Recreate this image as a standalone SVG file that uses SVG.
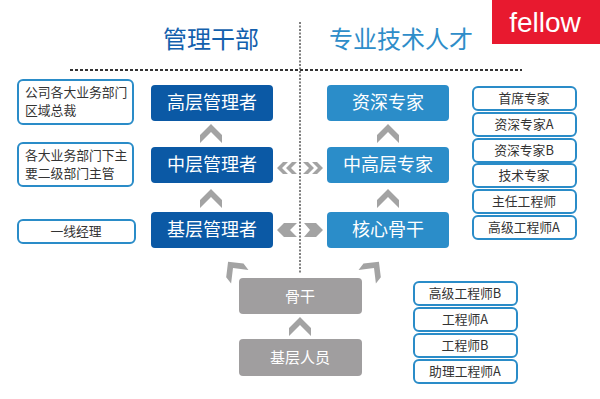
<svg xmlns="http://www.w3.org/2000/svg" width="600" height="399" viewBox="0 0 600 399">
<defs>
<style>
text{font-family:"Noto Sans CJK SC","Liberation Sans",sans-serif;text-anchor:middle}
.dk{fill:#0b59a5}
.lt{fill:#2b8dc9}
.gr{fill:#a09e9f}
.bt{fill:#fff;font-size:18px}
.ob{fill:#fff;stroke:#2a8cc8;stroke-width:2}
.ot{fill:#333;font-size:12.8px}
.chev{fill:#a3a3a3}
</style>
<polygon id="up" points="-11,3 0,-8 11,3 11,11 0,0 -11,11"/>
</defs>
<rect x="492" y="0" width="108" height="44" fill="#e8192f"/>
<text x="545" y="32" style="font-family:'Liberation Sans',sans-serif;font-size:28px;fill:#fff">fellow</text>
<text x="211" y="48" style="font-size:24px;fill:#1360ad">管理干部</text>
<text x="401" y="48" style="font-size:24px;fill:#2e8dc9">专业技术人才</text>
<g id="connectors">
<line x1="70" y1="70" x2="522" y2="70" stroke="#333" stroke-width="2" stroke-dasharray="3 2"/>
<line x1="300" y1="22" x2="300" y2="273" stroke="#555" stroke-width="1.5" stroke-dasharray="2 1.5"/>
<use href="#up" class="chev" x="211" y="132"/>
<use href="#up" class="chev" x="211" y="197"/>
<use href="#up" class="chev" x="388" y="132"/>
<use href="#up" class="chev" x="388" y="197"/>
<use href="#up" class="chev" x="300" y="325"/>
<use href="#up" class="chev" transform="translate(233,268) rotate(-38)"/>
<use href="#up" class="chev" transform="translate(374,268) rotate(38)"/>
<g class="chev">
<polygon points="277,168 283,162 288,162 282,168 288,174 283,174"/>
<polygon points="286,168 292,162 297,162 291,168 297,174 292,174"/>
<polygon points="323,168 317,162 312,162 318,168 312,174 317,174"/>
<polygon points="314,168 308,162 303,162 309,168 303,174 308,174"/>
<polygon points="277,230 284,223 297,223 290,230 297,237 284,237"/>
<polygon points="323,230 316,223 304,223 310,230 304,237 316,237"/>
</g>
</g>
<g id="n-gaoceng"><rect class="dk" x="151" y="85" width="122" height="36" rx="4"/><text class="bt" x="212" y="109">高层管理者</text></g>
<g id="n-zhongceng"><rect class="dk" x="151" y="147" width="122" height="36" rx="4"/><text class="bt" x="212" y="171">中层管理者</text></g>
<g id="n-jiceng"><rect class="dk" x="151" y="212" width="122" height="36" rx="4"/><text class="bt" x="212" y="236">基层管理者</text></g>
<g id="n-zishen"><rect class="lt" x="327" y="85" width="122" height="36" rx="4"/><text class="bt" x="388" y="109">资深专家</text></g>
<g id="n-zhonggao"><rect class="lt" x="327" y="147" width="122" height="36" rx="4"/><text class="bt" x="388" y="171">中高层专家</text></g>
<g id="n-hexin"><rect class="lt" x="327" y="212" width="122" height="36" rx="4"/><text class="bt" x="388" y="236">核心骨干</text></g>
<g id="n-gugan"><rect class="gr" x="239" y="278" width="123" height="36" rx="4"/><text class="bt" x="300" y="302" style="font-size:15px">骨干</text></g>
<g id="n-jicengry"><rect class="gr" x="239" y="339" width="123" height="37" rx="4"/><text class="bt" x="300" y="363" style="font-size:15px">基层人员</text></g>
<g id="l1"><rect class="ob" x="18" y="80" width="115" height="44" rx="5"/><text class="ot" x="25" y="97" style="text-anchor:start">公司各大业务部门</text><text class="ot" x="25" y="115" style="text-anchor:start">区域总裁</text></g>
<g id="l2"><rect class="ob" x="18" y="143" width="115" height="43" rx="5"/><text class="ot" x="25" y="160" style="text-anchor:start">各大业务部门下主</text><text class="ot" x="25" y="178" style="text-anchor:start">要二级部门主管</text></g>
<g id="l3"><rect class="ob" x="18" y="220" width="117" height="23" rx="5"/><text class="ot" x="76" y="236">一线经理</text></g>
<g id="r1"><rect class="ob" x="473" y="87" width="103" height="23" rx="5"/><text class="ot" x="524" y="103">首席专家</text></g>
<g id="r2"><rect class="ob" x="473" y="113" width="103" height="23" rx="5"/><text class="ot" x="524" y="129">资深专家A</text></g>
<g id="r3"><rect class="ob" x="473" y="139" width="103" height="23" rx="5"/><text class="ot" x="524" y="155">资深专家B</text></g>
<g id="r4"><rect class="ob" x="473" y="164" width="103" height="23" rx="5"/><text class="ot" x="524" y="180">技术专家</text></g>
<g id="r5"><rect class="ob" x="473" y="190" width="103" height="23" rx="5"/><text class="ot" x="524" y="206">主任工程师</text></g>
<g id="r6"><rect class="ob" x="473" y="216" width="103" height="23" rx="5"/><text class="ot" x="524" y="232">高级工程师A</text></g>
<g id="b1"><rect class="ob" x="414" y="282" width="103" height="23" rx="5"/><text class="ot" x="465" y="298">高级工程师B</text></g>
<g id="b2"><rect class="ob" x="414" y="308" width="103" height="23" rx="5"/><text class="ot" x="465" y="324">工程师A</text></g>
<g id="b3"><rect class="ob" x="414" y="334" width="103" height="23" rx="5"/><text class="ot" x="465" y="350">工程师B</text></g>
<g id="b4"><rect class="ob" x="414" y="360" width="103" height="23" rx="5"/><text class="ot" x="465" y="376">助理工程师A</text></g>
</svg>
